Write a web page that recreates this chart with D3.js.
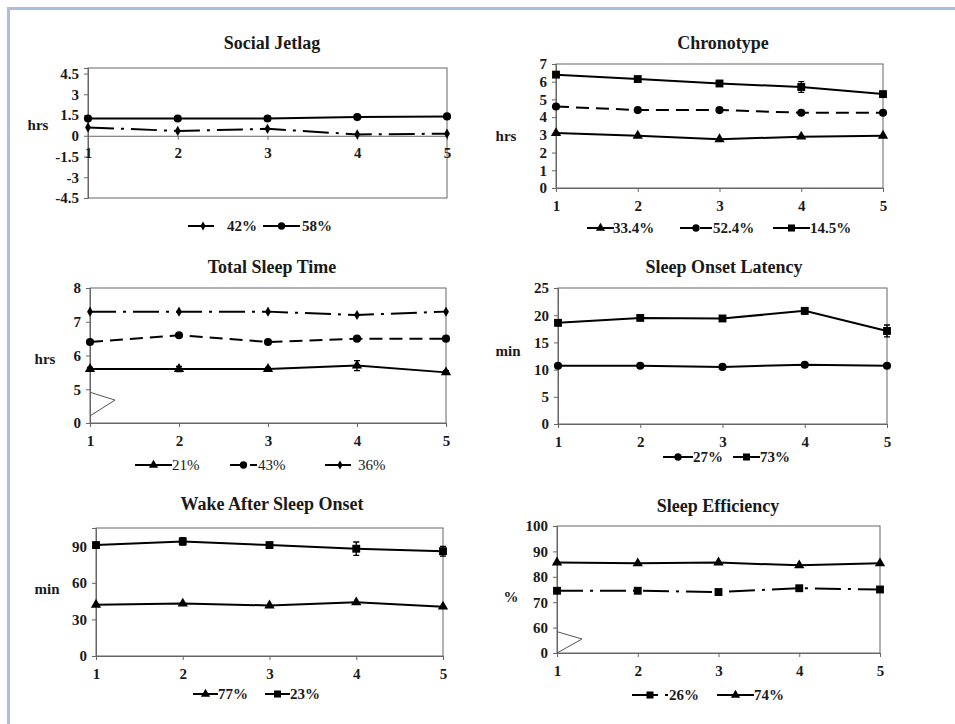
<!DOCTYPE html>
<html><head><meta charset="utf-8">
<script src="https://cdn.jsdelivr.net/npm/d3@7"></script>
<style>
body{margin:0;background:#fff}
text{font-family:"Liberation Serif","Times New Roman",serif;fill:#1a1a1a}
</style>
</head><body>
<svg id="c" width="955" height="724"></svg>
<script>
// ---------- data ----------
const days = [1, 2, 3, 4, 5];

// Social Jetlag
const sjTicks = [-4.5, -3, -1.5, 0, 1.5, 3, 4.5];
const sj42 = [0.6, 0.35, 0.5, 0.1, 0.15];
const sj58 = [1.25, 1.25, 1.25, 1.35, 1.4];

// Chronotype
const ctTicks = [0, 1, 2, 3, 4, 5, 6, 7];
const ct334 = [3.1, 2.95, 2.75, 2.9, 2.95];
const ct524 = [4.6, 4.4, 4.4, 4.25, 4.25];
const ct145 = [6.4, 6.15, 5.9, 5.7, 5.3];
const ct145Err = [0.1, 0.1, 0.1, 0.3, 0.1];

// Total Sleep Time (broken axis: bottom tick shown as 0)
const tstTicks = [4, 5, 6, 7, 8];
const tstTickLabels = ["0", "5", "6", "7", "8"];
const tst21 = [5.6, 5.6, 5.6, 5.7, 5.5];
const tst21Err = [0.05, 0.08, 0.05, 0.15, 0.05];
const tst43 = [6.4, 6.6, 6.4, 6.5, 6.5];
const tst36 = [7.3, 7.3, 7.3, 7.2, 7.3];

// Sleep Onset Latency
const solTicks = [0, 5, 10, 15, 20, 25];
const sol27 = [10.7, 10.7, 10.5, 10.9, 10.7];
const sol73 = [18.6, 19.5, 19.4, 20.8, 17.1];
const sol73Err = [0.5, 0.4, 0.5, 0.6, 1.1];

// Wake After Sleep Onset
const wasoTicks = [0, 30, 60, 90];
const waso77 = [42, 43, 41.5, 44, 40.5];
const waso23 = [91, 94, 91, 88, 86];
const waso23Err = [1.5, 3, 2, 5.5, 4];

// Sleep Efficiency (broken axis: bottom tick shown as 0)
const seTicks = [50, 60, 70, 80, 90, 100];
const seTickLabels = ["0", "60", "70", "80", "90", "100"];
const se26 = [74.5, 74.5, 74, 75.5, 75];
const se74 = [85.6, 85.3, 85.6, 84.5, 85.3];

// ---------- styles ----------
const SOLID = null, DASHDOT = "26,7,3,7", DASHED = "13,7";
const MK = {
  circle: {t: d3.symbolCircle, s: 52},
  square: {t: d3.symbolSquare, s: 62},
  triangle: {t: d3.symbolTriangle, s: 46},
  diamond: {t: d3.symbolDiamond, s: 30}
};
const FONT = '"Liberation Serif", "Times New Roman", serif';

const panels = [
  {title: "Social Jetlag", unit: "hrs", L: 88, R: 447, T: 68, B: 198, domain: [-4.5, 4.9],
   ticks: sjTicks, xAt: 0, titleX: 272, titleY: 49, unitX: 38, unitY: 130,
   series: [
     {name: "42%", v: sj42, dash: DASHDOT, mk: "diamond"},
     {name: "58%", v: sj58, dash: SOLID, mk: "circle"}],
   legY: 226, leg: [{sx: 188, sw: 30, tx: 227}, {sx: 263, sw: 37, tx: 302}]},
  {title: "Chronotype", unit: "hrs", L: 556, R: 883, T: 64, B: 188, domain: [0, 7],
   ticks: ctTicks, titleX: 723, titleY: 49, unitX: 506, unitY: 141,
   series: [
     {name: "33.4%", v: ct334, dash: SOLID, mk: "triangle"},
     {name: "52.4%", v: ct524, dash: DASHED, mk: "circle"},
     {name: "14.5%", v: ct145, err: ct145Err, dash: SOLID, mk: "square"}],
   legY: 228, leg: [{sx: 587, sw: 27, tx: 613}, {sx: 680, sw: 32, tx: 713}, {sx: 773, sw: 37, tx: 810}]},
  {title: "Total Sleep Time", unit: "hrs", L: 90, R: 446, T: 288, B: 423, domain: [4, 8],
   ticks: tstTicks, tickLabels: tstTickLabels, brk: [4.91, 4.68, 4.21],
   titleX: 272, titleY: 273, unitX: 45, unitY: 364, legNormal: true,
   series: [
     {name: "21%", v: tst21, err: tst21Err, dash: SOLID, mk: "triangle"},
     {name: "43%", v: tst43, dash: DASHED, mk: "circle"},
     {name: "36%", v: tst36, dash: DASHDOT, mk: "diamond"}],
   legY: 465, leg: [{sx: 135, sw: 37, tx: 172}, {sx: 230, sw: 27, tx: 258}, {sx: 325, sw: 30, tx: 358}]},
  {title: "Sleep Onset Latency", unit: "min", L: 558, R: 887, T: 288, B: 424, domain: [0, 25],
   ticks: solTicks, titleX: 724, titleY: 273, unitX: 508, unitY: 356,
   series: [
     {name: "27%", v: sol27, dash: SOLID, mk: "circle"},
     {name: "73%", v: sol73, err: sol73Err, dash: SOLID, mk: "square"}],
   legY: 457, leg: [{sx: 663, sw: 30, tx: 693}, {sx: 733, sw: 27, tx: 760}]},
  {title: "Wake After Sleep Onset", unit: "min", L: 96, R: 443, T: 528, B: 656, domain: [0, 105],
   ticks: wasoTicks, titleX: 272, titleY: 510, unitX: 47, unitY: 594,
   series: [
     {name: "77%", v: waso77, dash: SOLID, mk: "triangle"},
     {name: "23%", v: waso23, err: waso23Err, dash: SOLID, mk: "square"}],
   legY: 694, leg: [{sx: 193, sw: 25, tx: 218}, {sx: 265, sw: 25, tx: 290}]},
  {title: "Sleep Efficiency", unit: "%", L: 557, R: 880, T: 526, B: 653, domain: [50, 100],
   ticks: seTicks, tickLabels: seTickLabels, brk: [58.4, 55.5, 50],
   titleX: 718, titleY: 512, unitX: 511, unitY: 602,
   series: [
     {name: "26%", v: se26, dash: DASHDOT, mk: "square"},
     {name: "74%", v: se74, dash: SOLID, mk: "triangle"}],
   legY: 695, leg: [{sx: 632, sw: 36, tx: 669}, {sx: 717, sw: 37, tx: 754}]}
];

const svg = d3.select("#c");

// page frame decoration
svg.append("line").attr("x1", 7).attr("x2", 955).attr("y1", 8.5).attr("y2", 8.5)
  .attr("stroke", "#a9bfe0").attr("stroke-width", 3);
svg.append("line").attr("x1", 8.5).attr("x2", 8.5).attr("y1", 7).attr("y2", 724)
  .attr("stroke", "#a9bfe0").attr("stroke-width", 3);

function sym(g, mk, x, y, scale) {
  const m = MK[mk];
  g.append("path").attr("d", d3.symbol().type(m.t).size(m.s * (scale || 1))())
    .attr("transform", `translate(${x},${y})`).attr("fill", "#000");
}

panels.forEach(p => {
  const g = svg.append("g");
  const x = d3.scalePoint().domain(days).range([p.L, p.R]);
  const y = d3.scaleLinear().domain(p.domain).range([p.B, p.T]);

  // frame
  g.append("rect").attr("x", p.L).attr("y", p.T).attr("width", p.R - p.L).attr("height", p.B - p.T)
    .attr("fill", "none").attr("stroke", "#666").attr("stroke-width", 1);

  // y axis
  const ya = d3.axisLeft(y).tickValues(p.ticks).tickSize(4).tickPadding(5)
    .tickFormat((d, i) => p.tickLabels ? p.tickLabels[i] : String(d));
  const yg = g.append("g").attr("transform", `translate(${p.L},0)`).call(ya)
    .attr("font-family", FONT);
  yg.select(".domain").attr("stroke", "#666");
  yg.selectAll(".tick line").attr("stroke", "#666");
  yg.selectAll("text").style("font-size", "15px").style("font-weight", "bold")
    .style("font-family", FONT).attr("fill", "#1a1a1a");

  // x axis
  const xy = p.xAt !== undefined ? y(p.xAt) : p.B;
  const xa = d3.axisBottom(x).tickSize(4).tickPadding(8);
  const xg = g.append("g").attr("transform", `translate(0,${xy})`).call(xa)
    .attr("font-family", FONT);
  xg.select(".domain").attr("stroke", "#666");
  xg.selectAll(".tick line").attr("stroke", "#666");
  xg.selectAll("text").style("font-size", "15px").style("font-weight", "bold")
    .style("font-family", FONT).attr("fill", "#1a1a1a");

  // axis break symbol
  if (p.brk) {
    g.append("path").attr("d", d3.line()([[p.L, y(p.brk[0])], [p.L + 25, y(p.brk[1])], [p.L, y(p.brk[2])]]))
      .attr("fill", "none").attr("stroke", "#555").attr("stroke-width", 1);
  }

  // title & unit
  g.append("text").attr("x", p.titleX).attr("y", p.titleY).attr("text-anchor", "middle")
    .style("font-size", "18px").style("font-weight", "bold").text(p.title);
  g.append("text").attr("x", p.unitX).attr("y", p.unitY).attr("text-anchor", "middle")
    .style("font-size", "15px").style("font-weight", "bold").text(p.unit);

  // series
  p.series.forEach(s => {
    const pts = days.map((d, i) => [x(d), y(s.v[i])]);
    g.append("path").attr("d", d3.line()(pts)).attr("fill", "none")
      .attr("stroke", "#000").attr("stroke-width", 2)
      .attr("stroke-dasharray", s.dash);
    if (s.err) {
      days.forEach((d, i) => {
        const cx = x(d), y1 = y(s.v[i] - s.err[i]), y2 = y(s.v[i] + s.err[i]);
        g.append("path").attr("d", `M${cx},${y1}V${y2}M${cx - 3},${y1}H${cx + 3}M${cx - 3},${y2}H${cx + 3}`)
          .attr("stroke", "#000").attr("stroke-width", 1.3).attr("fill", "none");
      });
    }
    pts.forEach(pt => sym(g, s.mk, pt[0], pt[1]));
  });

  // legend
  p.series.forEach((s, i) => {
    const l = p.leg[i];
    g.append("line").attr("x1", l.sx).attr("x2", l.sx + l.sw).attr("y1", p.legY).attr("y2", p.legY)
      .attr("stroke", "#000").attr("stroke-width", 2).attr("stroke-dasharray", s.dash);
    sym(g, s.mk, l.sx + l.sw / 2, p.legY, 0.8);
    g.append("text").attr("x", l.tx).attr("y", p.legY).attr("dy", "0.35em")
      .style("font-size", "15px").style("font-weight", p.legNormal ? "normal" : "bold").text(s.name);
  });
});
</script>
</body></html>
